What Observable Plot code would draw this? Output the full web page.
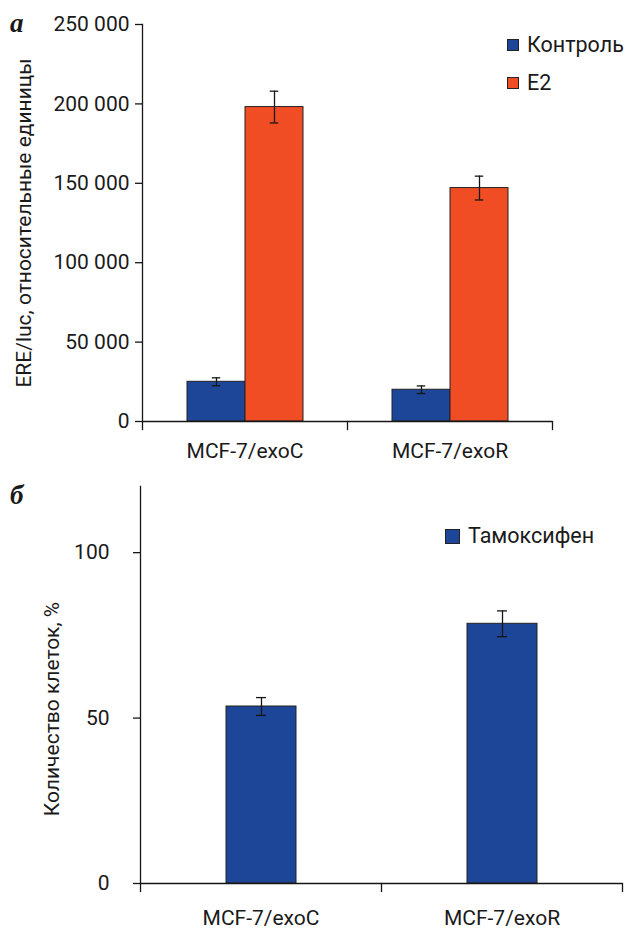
<!DOCTYPE html>
<html><head><meta charset="utf-8">
<script src="https://cdn.jsdelivr.net/npm/d3@7"></script>
<script src="https://cdn.jsdelivr.net/npm/@observablehq/plot@0.6"></script>
<style>
body{margin:0;background:#fff;}
#wrap{position:relative;width:639px;height:931px;font-family:Roboto,sans-serif;color:#1a1a1a;overflow:hidden;}
#wrap svg{position:absolute;left:0;}
.letter{position:absolute;font-family:"Liberation Serif",serif;font-weight:bold;font-style:italic;font-size:27px;line-height:1;}
.leg{position:absolute;display:flex;align-items:center;font-size:21.5px;line-height:1;white-space:nowrap;}
.sw{border:1px solid #222;box-sizing:border-box;margin-right:8px;flex:none;}
</style></head><body><div id="wrap"></div>
<script>
// ---------- data ----------
const categories = ["MCF-7/exoC", "MCF-7/exoR"];

const seriesA = ["Контроль", "E2"];
const colorsA = ["#1d4698", "#f04d24"];
const controlValues = [25000, 20000];
const controlErrors = [2500, 2400];
const e2Values = [198000, 147000];
const e2Errors = [10000, 7500];
const yTicksA = [0, 50000, 100000, 150000, 200000, 250000];
const yDomainA = [0, 250000];
const yTitleA = "ERE/luc, относительные единицы";

const seriesB = ["Тамоксифен"];
const colorsB = ["#1d4698"];
const tamoxValues = [53.5, 78.5];
const tamoxErrors = [2.7, 3.9];
const yTicksB = [0, 50, 100];
const yDomainB = [0, 120];
const yTitleB = "Количество клеток, %";

const panelLabels = ["а", "б"];

// ---------- tables ----------
const rowsA = [];
categories.forEach((c, i) => {
  rowsA.push({cat: c, series: seriesA[0], v: controlValues[i], e: controlErrors[i]});
  rowsA.push({cat: c, series: seriesA[1], v: e2Values[i], e: e2Errors[i]});
});
const rowsB = categories.map((c, i) => ({cat: c, series: seriesB[0], v: tamoxValues[i], e: tamoxErrors[i]}));

const fmt = d => d3.format(",")(d).replace(/,/g, " ");
const W = 639;
const ink = "#161616";

function panel(rows, opts) {
  const inner = opts.height - opts.top - opts.bottom;
  const facetW = (W - opts.left - opts.right) / categories.length;
  const bw = facetW * (1 - opts.padIn) / (opts.series.length - opts.padIn + 2 * opts.padOut);
  const capInset = (bw - opts.capW) / 2;
  const lo = d => d.v - d.e, hi = d => d.v + d.e;
  return Plot.plot({
    width: W, height: opts.height,
    marginTop: opts.top, marginBottom: opts.bottom, marginLeft: opts.left, marginRight: opts.right,
    style: {fontFamily: "Roboto, sans-serif", fontSize: "21px", color: "#1a1a1a", background: "transparent", overflow: "visible"},
    fx: {domain: categories, padding: 0, label: null},
    x: {domain: opts.series, paddingInner: opts.padIn, paddingOuter: opts.padOut, axis: null},
    y: {domain: opts.yDomain, axis: null},
    color: {domain: opts.series, range: opts.colors},
    marks: [
      Plot.barY(rows, {fx: "cat", x: "series", y: "v", fill: "series", stroke: "#222", strokeWidth: 1}),
      Plot.ruleX(rows, {fx: "cat", x: "series", y1: lo, y2: hi, stroke: ink, strokeWidth: 1.3}),
      Plot.tickY(rows, {fx: "cat", x: "series", y: lo, insetLeft: capInset, insetRight: capInset, stroke: ink, strokeWidth: 1.3}),
      Plot.tickY(rows, {fx: "cat", x: "series", y: hi, insetLeft: capInset, insetRight: capInset, stroke: ink, strokeWidth: 1.3}),
      Plot.ruleY([0], {stroke: ink, strokeWidth: 1.3}),
      Plot.frame({anchor: "left", facetAnchor: "left", stroke: ink, strokeWidth: 1.3}),
      Plot.frame({anchor: "left", insetTop: inner, insetBottom: -8, stroke: ink, strokeWidth: 1.3}),
      Plot.frame({anchor: "right", facetAnchor: "right", insetTop: inner, insetBottom: -8, stroke: ink, strokeWidth: 1.3}),
      Plot.axisY({ticks: opts.yTicks, tickFormat: fmt, tickSize: 7, tickPadding: opts.tickPad, label: null, fontSize: 21, stroke: ink, strokeWidth: 1.3}),
      Plot.axisFx({anchor: "bottom", tickSize: 0, tickPadding: opts.xPad, label: null, fontSize: 21}),
      Plot.text([opts.title], {facetAnchor: "left", frameAnchor: "left", textAnchor: "middle", lineAnchor: "middle", rotate: -90, dx: opts.titleDx, dy: opts.titleDy, fontSize: 21, fill: "#1a1a1a"})
    ]
  });
}

const wrap = document.getElementById("wrap");

const svgA = panel(rowsA, {height: 470, top: 24, bottom: 49, left: 142, right: 87,
  series: seriesA, colors: colorsA, padIn: 0, padOut: 0.752, capW: 9,
  yDomain: yDomainA, yTicks: yTicksA, tickPad: 6, xPad: 22, title: yTitleA, titleDx: -118, titleDy: 0});
svgA.style.top = "0px";
wrap.appendChild(svgA);

const svgB = panel(rowsB, {height: 461, top: 16, bottom: 48, left: 139, right: 17,
  series: seriesB, colors: colorsB, padIn: 0, padOut: 1.2, capW: 11,
  yDomain: yDomainB, yTicks: yTicksB, tickPad: 24, xPad: 27, title: yTitleB, titleDx: -88, titleDy: 24});
svgB.style.top = "470px";
wrap.appendChild(svgB);

// ---------- panel letters ----------
[[panelLabels[0], 10, 10], [panelLabels[1], 10, 482]].forEach(([t, x, y]) => {
  const d = document.createElement("div");
  d.className = "letter"; d.textContent = t;
  d.style.left = x + "px"; d.style.top = y + "px";
  wrap.appendChild(d);
});

// ---------- legends ----------
function legend(series, colors, x, ys, sw) {
  series.forEach((s, i) => {
    const item = document.createElement("div");
    item.className = "leg";
    item.style.left = x + "px";
    item.style.top = (ys[i] - 12) + "px";
    item.style.height = "24px";
    const box = document.createElement("span");
    box.className = "sw";
    box.style.width = sw + "px"; box.style.height = sw + "px";
    box.style.background = colors[i];
    item.appendChild(box);
    item.appendChild(document.createTextNode(s));
    wrap.appendChild(item);
  });
}
legend(seriesA, colorsA, 507, [45, 83], 12);
legend(seriesB, colorsB, 445, [536], 15);
</script>
</body></html>
